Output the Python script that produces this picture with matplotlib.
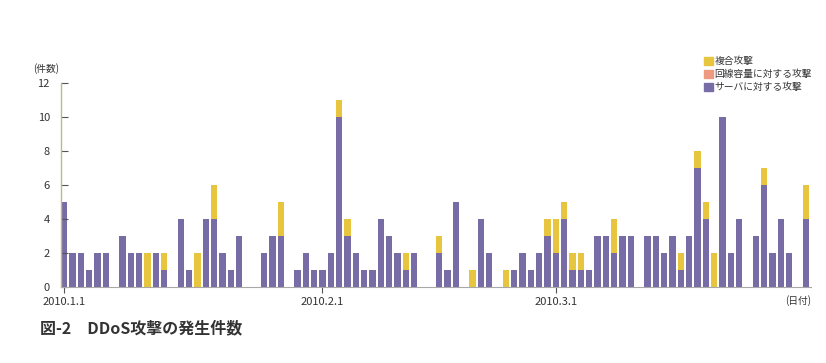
import numpy as np
import matplotlib
matplotlib.use('Agg')
import matplotlib.pyplot as plt
from matplotlib.patches import Patch

plt.rcParams['font.family'] = ['Noto Sans CJK JP', 'DejaVu Sans']

# daily counts, 2010.1.1 - 2010.3.31 (90 days)
server = [5, 2, 2, 1, 2, 2, 0, 3, 2, 2, 0, 2, 1, 0, 4, 1, 0, 4, 4, 2,
          1, 3, 0, 0, 2, 3, 3, 0, 1, 2, 1, 1, 2, 10, 3, 2, 1, 1, 4, 3,
          2, 1, 2, 0, 0, 2, 1, 5, 0, 0, 4, 2, 0, 0, 1, 2, 1, 2, 3, 2,
          4, 1, 1, 1, 3, 3, 2, 3, 3, 0, 3, 3, 2, 3, 1, 3, 7, 4, 0, 10,
          2, 4, 0, 3, 6, 2, 4, 2, 0, 4]
bandwidth = [0] * 90
composite = [0, 0, 0, 0, 0, 0, 0, 0, 0, 0, 2, 0, 1, 0, 0, 0, 2, 0, 2, 0,
             0, 0, 0, 0, 0, 0, 2, 0, 0, 0, 0, 0, 0, 1, 1, 0, 0, 0, 0, 0,
             0, 1, 0, 0, 0, 1, 0, 0, 0, 1, 0, 0, 0, 1, 0, 0, 0, 0, 1, 2,
             1, 1, 1, 0, 0, 0, 2, 0, 0, 0, 0, 0, 0, 0, 1, 0, 1, 1, 2, 0,
             0, 0, 0, 0, 1, 0, 0, 0, 0, 2]
tick_days = [0, 31, 59]
tick_labels = ['2010.1.1', '2010.2.1', '2010.3.1']
legend_labels = ['複合攻撃', '回線容量に対する攻撃', 'サーバに対する攻撃']

c_server = '#776ca6'
c_band = '#ee9a80'
c_comp = '#e8c53f'

fig = plt.figure(figsize=(8.26, 3.63), dpi=100)
ax = fig.add_axes([0.0738, 0.209, 0.908, 0.562])

x = np.arange(len(server))
w = 0.75
s = np.array(server)
b = np.array(bandwidth)
c = np.array(composite)
ax.bar(x, s, width=w, align='edge', color=c_server, linewidth=0)
ax.bar(x, b, width=w, align='edge', bottom=s, color=c_band, linewidth=0)
ax.bar(x, c, width=w, align='edge', bottom=s + b, color=c_comp, linewidth=0)

ax.set_xlim(0, 90)
ax.set_ylim(0, 12)
ax.set_yticks(range(0, 13, 2))
ax.tick_params(axis='y', direction='in', length=5, width=0.8, color='#555555',
               labelsize=8, labelcolor='#333333', pad=8)
ax.set_xticks([d + w / 2 for d in tick_days])
ax.set_xticklabels(tick_labels)
ax.tick_params(axis='x', direction='out', length=4, width=0.8, color='#555555',
               labelsize=8, labelcolor='#333333', pad=3)

for sp in ['top', 'right']:
    ax.spines[sp].set_visible(False)
ax.spines['left'].set_color('#bdb88a')
ax.spines['left'].set_linewidth(1.0)
ax.spines['bottom'].set_color('#a8a8a8')
ax.spines['bottom'].set_linewidth(0.8)

fig.text(0.040, 0.812, '(件数)', fontsize=7, color='#333333', va='center')
fig.text(0.950, 0.172, '(日付)', fontsize=7, color='#333333', va='center')
fig.text(0.048, 0.095, '図-2　DDoS攻撃の発生件数', fontsize=11.5,
         fontweight='bold', color='#333333', va='center')

handles = [Patch(color=c_comp), Patch(color=c_band), Patch(color=c_server)]
fig.legend(handles, legend_labels, loc='upper left', bbox_to_anchor=(0.852, 0.845),
           frameon=False, fontsize=7, handlelength=0.9, handleheight=0.9,
           handletextpad=0.2, labelspacing=0.3, borderpad=0, borderaxespad=0,
           labelcolor='#333333')

fig.savefig('out.png', dpi=100)
